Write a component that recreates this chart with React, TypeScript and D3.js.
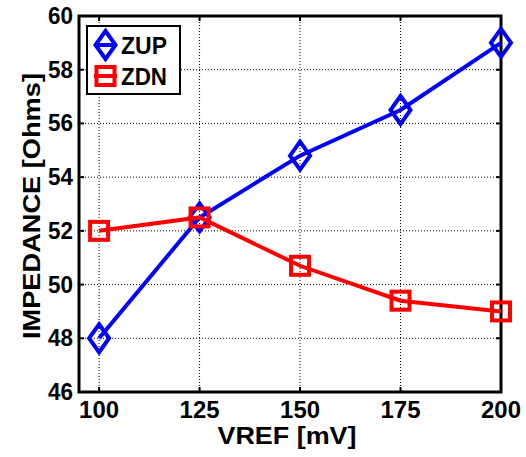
import React, { useEffect, useRef } from 'react';
import * as d3 from 'd3';

const vref = [100, 125, 150, 175, 200];
const zup = [48, 52.5, 54.8, 56.5, 59];
const zdn = [52, 52.5, 50.7, 49.4, 49];
const xTicks = [100, 125, 150, 175, 200];
const yTicks = [46, 48, 50, 52, 54, 56, 58, 60];

const W = 526;
const H = 457;
const m = { left: 79, right: 25, top: 16, bottom: 65 };

export default function App() {
  const ref = useRef<SVGSVGElement>(null);

  useEffect(() => {
    const svg = d3.select(ref.current);
    svg.selectAll('*').remove();
    const font = 'Liberation Sans, Arial, sans-serif';

    const x = d3.scaleLinear().domain([95, 200]).range([m.left, W - m.right]);
    const y = d3.scaleLinear().domain([46, 60]).range([H - m.bottom, m.top]);
    const x0 = m.left, x1 = W - m.right, y0 = H - m.bottom, y1 = m.top;

    // grid
    const grid = svg.append('g');
    grid.selectAll('.gx').data(xTicks).enter().append('line')
      .attr('x1', (d) => x(d)).attr('x2', (d) => x(d))
      .attr('y1', y0).attr('y2', y1)
      .attr('stroke', '#000').attr('stroke-width', 1).attr('stroke-dasharray', '1,2');
    grid.selectAll('.gy').data(yTicks).enter().append('line')
      .attr('x1', x0).attr('x2', x1)
      .attr('y1', (d) => y(d)).attr('y2', (d) => y(d))
      .attr('stroke', '#000').attr('stroke-width', 1).attr('stroke-dasharray', '1,2');

    // tick marks inside
    const ticks = svg.append('g').attr('stroke', '#000').attr('stroke-width', 2);
    xTicks.forEach((t) => {
      ticks.append('line').attr('x1', x(t)).attr('x2', x(t)).attr('y1', y0).attr('y2', y0 - 5);
      ticks.append('line').attr('x1', x(t)).attr('x2', x(t)).attr('y1', y1).attr('y2', y1 + 5);
    });
    yTicks.forEach((t) => {
      ticks.append('line').attr('x1', x0).attr('x2', x0 + 5).attr('y1', y(t)).attr('y2', y(t));
      ticks.append('line').attr('x1', x1).attr('x2', x1 - 5).attr('y1', y(t)).attr('y2', y(t));
    });

    // box
    svg.append('rect')
      .attr('x', x0).attr('y', y1).attr('width', x1 - x0).attr('height', y0 - y1)
      .attr('fill', 'none').attr('stroke', '#000').attr('stroke-width', 3);

    // tick labels
    svg.selectAll('.xl').data(xTicks).enter().append('text')
      .attr('x', (d) => x(d)).attr('y', y0 + 26)
      .attr('text-anchor', 'middle')
      .attr('textLength', 40).attr('lengthAdjust', 'spacingAndGlyphs')
      .style('font-family', font).style('font-weight', 'bold').style('font-size', '23px')
      .text((d) => d);
    svg.selectAll('.yl').data(yTicks).enter().append('text')
      .attr('x', x0 - 6).attr('y', (d) => y(d) + 8)
      .attr('text-anchor', 'end')
      .attr('textLength', 25).attr('lengthAdjust', 'spacingAndGlyphs')
      .style('font-family', font).style('font-weight', 'bold').style('font-size', '23px')
      .text((d) => d);

    // axis titles
    svg.append('text')
      .attr('x', 287).attr('y', 444)
      .attr('text-anchor', 'middle')
      .attr('textLength', 139).attr('lengthAdjust', 'spacingAndGlyphs')
      .style('font-family', font).style('font-weight', 'bold').style('font-size', '24px')
      .text('VREF [mV]');
    svg.append('text')
      .attr('transform', `translate(40, 206) rotate(-90)`)
      .attr('text-anchor', 'middle')
      .attr('textLength', 266).attr('lengthAdjust', 'spacingAndGlyphs')
      .style('font-family', font).style('font-weight', 'bold').style('font-size', '24px')
      .text('IMPEDANCE [Ohms]');

    const line = d3.line<number>().x((d, i) => x(vref[i])).y((d) => y(d));
    const diamond = (cx: number, cy: number) =>
      `M${cx},${cy - 14}L${cx + 10},${cy}L${cx},${cy + 14}L${cx - 10},${cy}Z`;

    // ZUP
    svg.append('path').datum(zup).attr('d', line)
      .attr('fill', 'none').attr('stroke', '#0000ff').attr('stroke-width', 4);
    svg.selectAll('.dm').data(zup).enter().append('path')
      .attr('d', (d, i) => diamond(x(vref[i]), y(d)))
      .attr('fill', 'none').attr('stroke', '#0000ff').attr('stroke-width', 4);

    // ZDN
    svg.append('path').datum(zdn).attr('d', line)
      .attr('fill', 'none').attr('stroke', '#ff0000').attr('stroke-width', 4);
    svg.selectAll('.sq').data(zdn).enter().append('rect')
      .attr('x', (d, i) => x(vref[i]) - 9).attr('y', (d) => y(d) - 9)
      .attr('width', 18).attr('height', 18)
      .attr('fill', 'none').attr('stroke', '#ff0000').attr('stroke-width', 4);

    // legend
    const lg = svg.append('g');
    lg.append('rect').attr('x', 87).attr('y', 26).attr('width', 93).attr('height', 68)
      .attr('fill', '#fff').attr('stroke', '#000').attr('stroke-width', 2);
    const items = [
      { name: 'ZUP', color: '#0000ff', cy: 45 },
      { name: 'ZDN', color: '#ff0000', cy: 76 },
    ];
    items.forEach((it, i) => {
      lg.append('line').attr('x1', 94).attr('x2', 117).attr('y1', it.cy).attr('y2', it.cy)
        .attr('stroke', it.color).attr('stroke-width', 4);
      if (i === 0) {
        lg.append('path').attr('d', diamond(105.5, it.cy))
          .attr('fill', 'none').attr('stroke', it.color).attr('stroke-width', 4);
      } else {
        lg.append('rect').attr('x', 96.5).attr('y', it.cy - 9).attr('width', 18).attr('height', 18)
          .attr('fill', 'none').attr('stroke', it.color).attr('stroke-width', 4);
      }
      lg.append('text').attr('x', 121).attr('y', it.cy + 9)
        .attr('textLength', 46).attr('lengthAdjust', 'spacingAndGlyphs')
        .style('font-family', font).style('font-weight', 'bold').style('font-size', '24px')
        .text(it.name);
    });
  }, []);

  return (
    <svg
      ref={ref}
      width={W}
      height={H}
      style={{ display: 'block', position: 'absolute', left: 0, top: 0, background: '#fff' }}
    />
  );
}
